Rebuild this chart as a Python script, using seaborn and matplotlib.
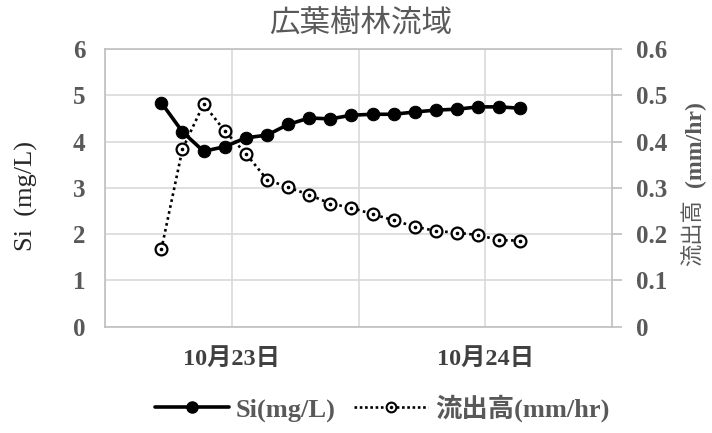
import matplotlib
matplotlib.use("Agg")
import matplotlib.pyplot as plt
from matplotlib.lines import Line2D
from matplotlib.legend_handler import HandlerTuple
import seaborn as sns
import pandas as pd

# ---- data ----
times = ["2000-10-22 17:20", "2000-10-22 19:20", "2000-10-22 21:20", "2000-10-22 23:20",
         "2000-10-23 01:20", "2000-10-23 03:20", "2000-10-23 05:20", "2000-10-23 07:20",
         "2000-10-23 09:20", "2000-10-23 11:20", "2000-10-23 13:20", "2000-10-23 15:20",
         "2000-10-23 17:20", "2000-10-23 19:20", "2000-10-23 21:20", "2000-10-23 23:20",
         "2000-10-24 01:20", "2000-10-24 03:20"]
si = [4.84, 4.21, 3.79, 3.89, 4.08, 4.14, 4.37, 4.51, 4.49, 4.57, 4.59,
      4.59, 4.64, 4.68, 4.70, 4.75, 4.75, 4.72]
flow = [0.167, 0.384, 0.481, 0.423, 0.374, 0.318, 0.301, 0.285, 0.266, 0.257,
        0.243, 0.230, 0.216, 0.207, 0.203, 0.198, 0.187, 0.186]
day_ticks = ["2000-10-23", "2000-10-24"]
day_labels = ["10月23日", "10月24日"]
left_ticks = [0, 1, 2, 3, 4, 5, 6]
right_ticks = [0, 0.1, 0.2, 0.3, 0.4, 0.5, 0.6]
right_labels = ["0", "0.1", "0.2", "0.3", "0.4", "0.5", "0.6"]
title = "広葉樹林流域"

df = pd.DataFrame({"time": pd.to_datetime(times), "si": si, "flow": flow})

sns.set_theme(style="white")
FONT = ["Liberation Serif", "Noto Sans CJK JP", "DejaVu Sans"]
plt.rcParams["font.family"] = FONT

TXT = "#595959"
GRID = "#d9d9d9"
SPINE = "#bfbfbf"
DOTS = (0, (1, 1.3))

fig = plt.figure(figsize=(7.12, 4.33), dpi=100)
ax = fig.add_axes([0.1475, 0.2455, 0.7121, 0.6413])
ax2 = ax.twinx()

sns.lineplot(data=df, x="time", y="si", ax=ax, color="black", linewidth=2.6,
             marker="o", markersize=9, markeredgecolor="black", zorder=5)
sns.lineplot(data=df, x="time", y="flow", ax=ax2, color="black", linewidth=1.9,
             linestyle=DOTS, marker="o", markersize=8.5,
             markerfacecolor="white", markeredgecolor="black", markeredgewidth=1.6, zorder=4)
ax2.plot(df["time"], df["flow"], linestyle="none", marker="o", markersize=1.6,
         color="black", zorder=6)

# axes limits & ticks
ax.set_ylim(0, 6)
ax2.set_ylim(0, 0.6)
ax.set_xlim(pd.Timestamp("2000-10-22 12:00"), pd.Timestamp("2000-10-24 12:00"))
ax.set_xticks(pd.to_datetime(day_ticks))
ax.set_xticklabels(day_labels)
ax.set_xticks(pd.to_datetime(["2000-10-22 12:00", "2000-10-23 12:00"]), minor=True)
ax.set_yticks(left_ticks)
ax.set_yticklabels([str(t) for t in left_ticks])
ax2.set_yticks(right_ticks)
ax2.set_yticklabels(right_labels)

ax.grid(True, which="both", axis="x", color=GRID, linewidth=1.2)
ax.grid(True, which="major", axis="y", color=GRID, linewidth=1.2)
ax.set_axisbelow(True)

for sp in ax.spines.values():
    sp.set_color(SPINE)
    sp.set_linewidth(1.2)
for sp in ax2.spines.values():
    sp.set_visible(False)
ax2.spines["right"].set_visible(True)
ax2.spines["right"].set_color(SPINE)
ax2.spines["right"].set_linewidth(1.2)
ax.spines["right"].set_visible(False)

ax.tick_params(axis="x", which="both", length=0, pad=15, labelsize=17.5, labelcolor="#404040")
ax.tick_params(axis="y", length=0, pad=14, labelsize=18, labelcolor=TXT)
ax2.tick_params(axis="y", length=7, width=1.2, color=SPINE, pad=10, labelsize=18,
                labelcolor=TXT, direction="out")
for lab in ax.get_xticklabels() + ax.get_yticklabels() + ax2.get_yticklabels():
    lab.set_fontweight("bold")

ax.set_xlabel("")
ax.set_ylabel("")
ax2.set_ylabel("")

# axis titles
fig.text(0.037, 0.547, "Si  (mg/L)", rotation=90, ha="center", va="center",
         fontsize=19, color="#262626")
fig.text(0.975, 0.463, "流出高", rotation=90, ha="center", va="center",
         fontsize=16, color=TXT, family=FONT)
fig.text(0.977, 0.667, "(mm/hr)", rotation=90, ha="center", va="center",
         fontsize=17, color=TXT, fontweight="bold")

fig.text(0.507, 0.947, title, ha="center", va="center", fontsize=22, color=TXT,
         family=["Noto Sans CJK JP"])

# legend
h_si = Line2D([], [], color="black", linewidth=2.6, marker="o", markersize=8)
h_fl = Line2D([], [], color="black", linewidth=1.9, linestyle=(0, (1, 1.0)),
              marker="o", markersize=7, markerfacecolor="white",
              markeredgecolor="black", markeredgewidth=1.5)
h_dot = Line2D([], [], linestyle="none", marker="o", markersize=1.5, color="black")
leg = fig.legend([h_si, (h_fl, h_dot)], ["Si(mg/L)", "流出高(mm/hr)"],
                 handler_map={tuple: HandlerTuple(ndivide=1, pad=0)},
                 loc="center", bbox_to_anchor=(0.537, 0.058), ncol=2, frameon=False,
                 handlelength=2.8, handletextpad=0.25, columnspacing=0.7,
                 prop={"size": 19, "weight": "bold", "family": FONT})
for t in leg.get_texts():
    t.set_color(TXT)

fig.savefig("out.png", dpi=100)
